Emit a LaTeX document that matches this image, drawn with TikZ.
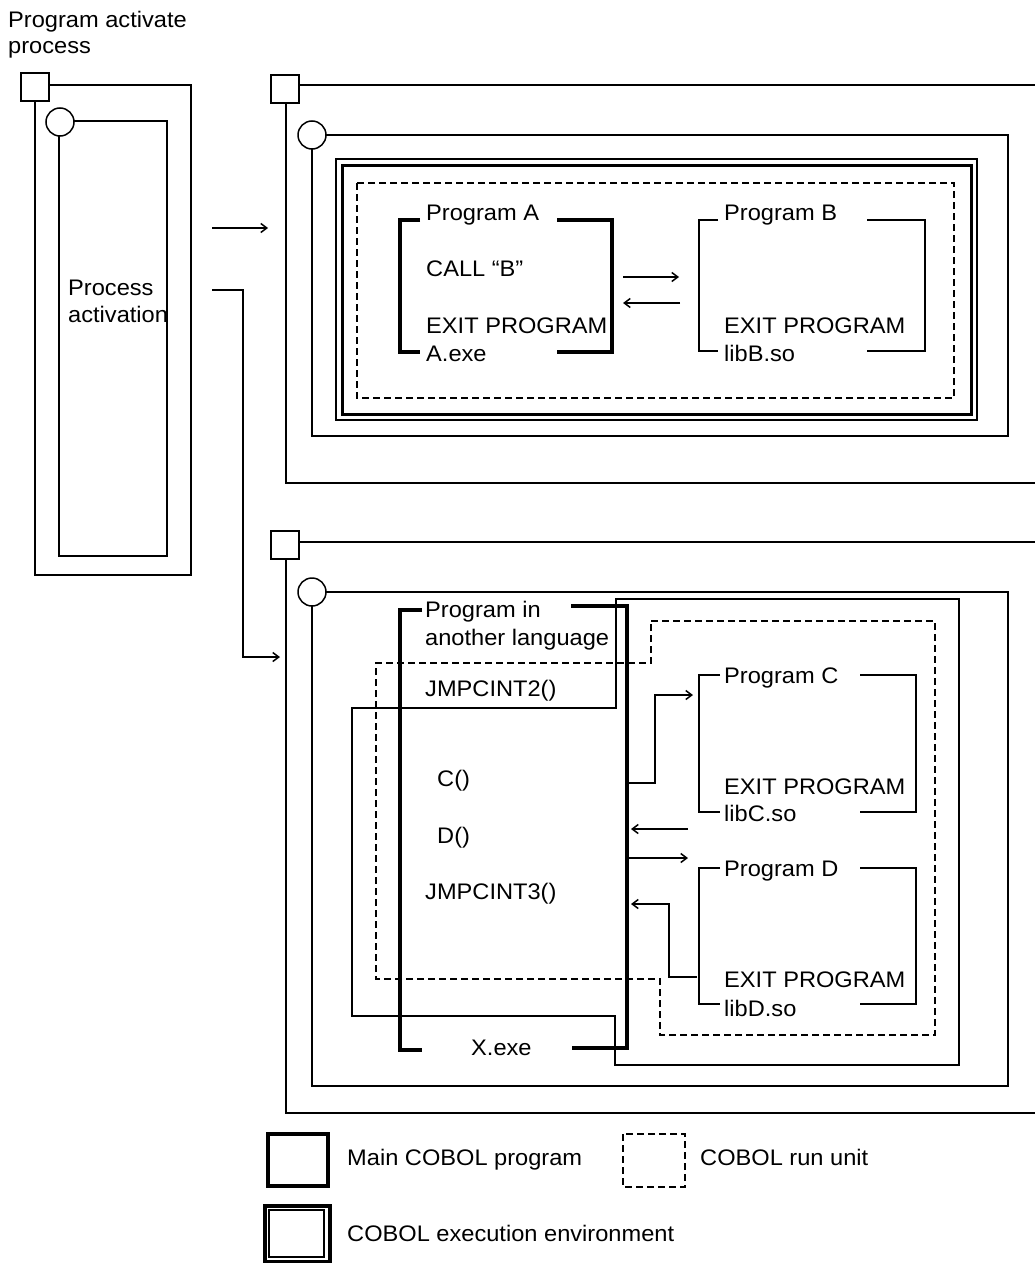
\documentclass[tikz,border=0pt]{standalone}
\usepackage{fontspec}
\setmainfont[FakeStretch=1.05]{Liberation Sans}
\usetikzlibrary{arrows.meta}

\begin{document}
\begin{tikzpicture}[x=1pt, y=-1pt, >={Straight Barb[length=6pt,width=9pt]},
    thinln/.style={line width=1.5pt},
    thickln/.style={line width=3.5pt},
    rununit/.style={line width=1.5pt, dash pattern=on 7pt off 4pt},
    corner/.style={line width=1.5pt, fill=white},
    lbl/.style={anchor=base west, inner sep=0pt, align=left,
        font=\fontsize{22.5}{27}\selectfont}]
    \useasboundingbox (0,0) rectangle (1035,1263);

    % Tien trinh khoi dong (ben trai)
    \node[lbl, font=\fontsize{22.5}{25}\selectfont] (activate) at (8,53) {Program activate\\process};
    \draw[thinln] (35,85) rectangle (191,575);
    \draw[corner] (21,73) rectangle (49,101);
    \draw[thinln] (59,121) rectangle (167,556);
    \draw[corner] (60,122) circle (14pt);
    \node[lbl] (procact) at (68,322) {Process\\activation};

    % Mui ten sang hai tien trinh
    \coordinate (launchA) at (212,228);
    \coordinate (startA) at (268,228);
    \coordinate (launchX) at (212,290);
    \coordinate (startX) at (280,657);
    \draw[->, thinln] (launchA) -- (startA);
    \draw[->, thinln] (launchX) -- ++(31,0) |- (startX);

    % Tien trinh A.exe (tren)
    \draw[thinln] (1036,85) -- (286,85) -- (286,483) -- (1036,483);
    \draw[corner] (271,75) rectangle (299,103);
    \draw[thinln] (312,135) rectangle (1008,436);
    \draw[corner] (312,135) circle (14pt);
    % moi truong thuc thi COBOL (vien doi)
    \draw[line width=1.5pt] (336,159) rectangle (977,420);
    \draw[line width=3pt] (342,165) rectangle (971,414);
    % don vi chay COBOL
    \draw[rununit] (357,183) rectangle (954,398);

    % Program A (chuong trinh COBOL chinh)
    \draw[thickln] (420,220) -- (400,220) -- (400,352) -- (420,352);
    \draw[thickln] (557,220) -- (612,220) -- (612,352) -- (557,352);
    \node[lbl] (progA) at (426,220) {Program A};
    \node[lbl] (callB) at (426,276) {CALL “B”};
    \node[lbl] (exitA) at (426,333) {EXIT PROGRAM};
    \node[lbl] (aexe) at (426,361) {A.exe};

    % Program B
    \draw[thinln] (718,220) -- (699,220) -- (699,351) -- (718,351);
    \draw[thinln] (867,220) -- (925,220) -- (925,351) -- (867,351);
    \node[lbl] (progB) at (724,220) {Program B};
    \node[lbl] (exitB) at (724,333) {EXIT PROGRAM};
    \node[lbl] (libB) at (724,361) {libB.so};

    % goi va tra ve giua A va B
    \coordinate (callgo) at (623,277);
    \coordinate (callin) at (679,277);
    \coordinate (retgo) at (680,303);
    \coordinate (retin) at (623,303);
    \draw[->, thinln] (callgo) -- (callin);
    \draw[->, thinln] (retgo) -- (retin);

    % Tien trinh X.exe (duoi)
    \draw[thinln] (1036,542) -- (286,542) -- (286,1113) -- (1036,1113);
    \draw[corner] (271,531) rectangle (299,559);
    \draw[thinln] (312,592) rectangle (1008,1086);
    \draw[corner] (312,592) circle (14pt);
    % vung chuong trinh ngon ngu khac
    \draw[thinln] (616,599) -- (959,599) -- (959,1065) -- (615,1065)
        -- (615,1016) -- (352,1016) -- (352,708) -- (616,708) -- cycle;
    % don vi chay COBOL (hinh gap khuc)
    \draw[rununit] (651,621) -- (935,621) -- (935,1035) -- (660,1035)
        -- (660,979) -- (376,979) -- (376,663) -- (651,663) -- cycle;

    % Program in another language
    \draw[thickln] (422,610) -- (400,610) -- (400,1050) -- (422,1050);
    \draw[thickln] (571,606) -- (627,606) -- (627,1048) -- (572,1048);
    \node[lbl, font=\fontsize{22.5}{28}\selectfont] (progX) at (425,645) {Program in\\another language};
    \node[lbl] (jmp2) at (425,696) {JMPCINT2()};
    \node[lbl] (callC) at (437,786) {C()};
    \node[lbl] (callD) at (437,843) {D()};
    \node[lbl] (jmp3) at (425,899) {JMPCINT3()};
    \node[lbl] (xexe) at (471,1055) {X.exe};

    % Program C
    \draw[thinln] (720,675) -- (699,675) -- (699,812) -- (720,812);
    \draw[thinln] (860,675) -- (916,675) -- (916,812) -- (860,812);
    \node[lbl] (progC) at (724,683) {Program C};
    \node[lbl] (exitC) at (724,794) {EXIT PROGRAM};
    \node[lbl] (libC) at (724,821) {libC.so};

    % Program D
    \draw[thinln] (720,868) -- (699,868) -- (699,1004) -- (720,1004);
    \draw[thinln] (860,868) -- (916,868) -- (916,1004) -- (860,1004);
    \node[lbl] (progD) at (724,876) {Program D};
    \node[lbl] (exitD) at (724,987) {EXIT PROGRAM};
    \node[lbl] (libD) at (724,1016) {libD.so};

    % goi va tra ve C, D
    \coordinate (cgo) at (629,783);
    \coordinate (cin) at (693,695);
    \coordinate (cback) at (688,829);
    \coordinate (cret) at (631,829);
    \coordinate (dgo) at (629,858);
    \coordinate (din) at (688,858);
    \coordinate (dexit) at (697,977);
    \coordinate (dret) at (631,904);
    \draw[->, thinln] (cgo) -- ++(26,0) |- (cin);
    \draw[->, thinln] (cback) -- (cret);
    \draw[->, thinln] (dgo) -- (din);
    \draw[->, thinln] (dexit) -- ++(-28,0) |- (dret);

    % Chu thich
    \draw[line width=3.5pt] (268,1134) rectangle (328,1186);
    \node[lbl] (legmain) at (347,1165) {Main COBOL program};
    \draw[rununit] (623,1134) rectangle (685,1187);
    \node[lbl] (legrun) at (700,1165) {COBOL run unit};
    \draw[line width=4pt] (264.5,1205.5) rectangle (329.5,1262);
    \draw[line width=1.5pt] (269,1210) rectangle (324,1257);
    \node[lbl] (legenv) at (347,1241) {COBOL execution environment};
\end{tikzpicture}
\end{document}
